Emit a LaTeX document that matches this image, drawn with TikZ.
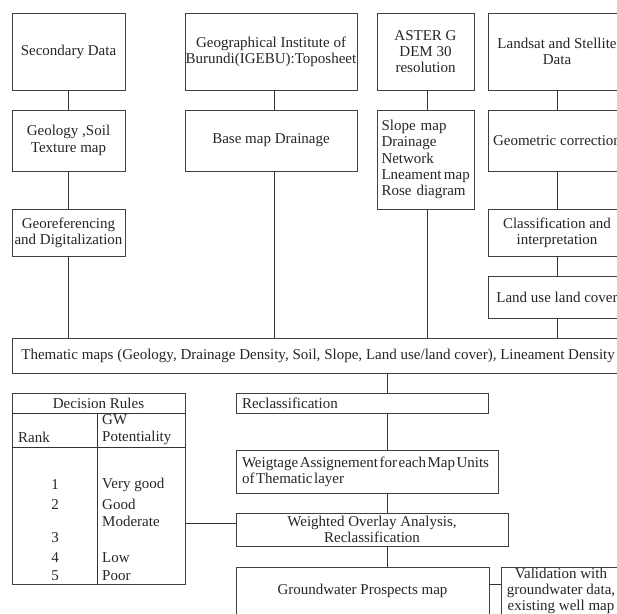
\documentclass[tikz,border=0pt]{standalone}
\usepackage{fontspec}
\setmainfont{Liberation Serif}
\begin{document}
\begin{tikzpicture}[x=1pt,y=-1pt,
  every node/.style={font=\fontsize{15pt}{16.25pt}\selectfont, text=black!85},
  box/.style={draw=black!75, line width=0.8pt, inner sep=0pt, align=center},
  lbox/.style={draw=black!75, line width=0.8pt, inner xsep=6pt, inner ysep=0pt, align=left},
  txt/.style={inner sep=0pt, align=left},
  conn/.style={draw=black!80, line width=0.8pt}]
\useasboundingbox (0,0) rectangle (617,613);
\clip (0,0) rectangle (617,613);
\fill[white] (0,0) rectangle (617,613);
% column 1
\node[box, minimum width=113pt, minimum height=77pt] (sec) at (68.5,51.5) {Secondary Data};
\node[box, minimum width=113pt, minimum height=61pt] (geol) at (68.5,140.5) {Geology ,Soil\\Texture map};
\node[box, minimum width=113pt, minimum height=47pt] (georef) at (68.5,232.5) {Georeferencing\\and Digitalization};
% column 2
\node[box, minimum width=172pt, minimum height=77pt] (igebu) at (271,51.5) {Geographical Institute of\\Burundi(IGEBU):Toposheet};
\node[box, minimum width=172pt, minimum height=61pt] (base) at (271,140.5) {Base map Drainage};
% column 3
\node[box, minimum width=97pt, minimum height=77pt] (aster) at (425.5,51.5) {ASTER G\\DEM 30\\resolution};
\node[box, minimum width=97pt, minimum height=99pt, text width=88pt, align=left] (slope) at (425.5,159.5) {Slope map\\Drainage\\Network\\\mbox{\spaceskip=2.5pt Lneament map}\\Rose diagram};
% column 4
\node[box, minimum width=138pt, minimum height=77pt] (land) at (557,51.5) {Landsat and Stellite\\Data};
\node[box, minimum width=138pt, minimum height=61pt] (geom) at (557,140.5) {Geometric correction};
\node[box, minimum width=138pt, minimum height=47pt] (class) at (557,232.5) {Classification and\\interpretation};
\node[box, minimum width=138pt, minimum height=42pt] (lulc) at (557,297) {Land use land cover};
% thematic
\node[draw=black!75, line width=0.8pt, inner xsep=9pt, inner ysep=0pt, minimum height=35pt, text width=602pt, align=left, anchor=west] (them) at (12,355.5) {\mbox{\spaceskip=3.8pt Thematic maps (Geology, Drainage Density, Soil, Slope, Land use/land cover), Lineament Density}};
% connectors top
\draw[conn] (sec) -- (geol);
\draw[conn] (geol) -- (georef);
\draw[conn] (georef.south) -- (georef.south |- them.north);
\draw[conn] ([xshift=3pt]igebu.south) -- ([xshift=3pt]base.north);
\draw[conn] ([xshift=3pt]base.south) -- ([xshift=3pt]base.south |- them.north);
\draw[conn] ([xshift=1.5pt]aster.south) -- ([xshift=1.5pt]slope.north);
\draw[conn] ([xshift=1.5pt]slope.south) -- ([xshift=1.5pt]slope.south |- them.north);
\draw[conn] (land) -- (geom);
\draw[conn] (geom) -- (class);
\draw[conn] (class) -- (lulc);
\draw[conn] (lulc.south) -- (lulc.south |- them.north);
% right lower chain
\node[lbox, minimum width=252pt, minimum height=20pt, text width=240pt] (recl) at (362,403) {Reclassification};
\node[lbox, minimum width=262pt, minimum height=43pt, text width=250pt] (weig) at (367,471.5) {\mbox{\spaceskip=1.5pt Weigtage Assignement for each Map Units}\\\mbox{\spaceskip=1.5pt of Thematic layer}};
\node[box, minimum width=272pt, minimum height=33pt] (wov) at (372,529.5) {Weighted Overlay Analysis,\\Reclassification};
\node[box, minimum width=253pt, minimum height=47pt] (gw) at (362.5,590.5) {Groundwater Prospects map};
\node[box, minimum width=120pt, minimum height=48pt] (val) at (561,591) {Validation with\\groundwater data,\\existing well map};
\coordinate (cx) at (387,0);
\draw[conn] (cx |- them.south) -- (cx |- recl.north);
\draw[conn] (cx |- recl.south) -- (cx |- weig.north);
\draw[conn] (cx |- weig.south) -- (cx |- wov.north);
\draw[conn] (cx |- wov.south) -- (cx |- gw.north);
\coordinate (vy) at (0,584);
\draw[conn] (gw.east |- vy) -- (val.west |- vy);
% decision table
\node[draw=black!75, line width=0.8pt, minimum width=173pt, minimum height=191pt, inner sep=0pt] (dec) at (98.5,488.5) {};
\coordinate (r1) at (0,413);
\coordinate (r2) at (0,447);
\coordinate (c1) at (97,0);
\draw[conn] (dec.west |- r1) -- (dec.east |- r1);
\draw[conn] (dec.west |- r2) -- (dec.east |- r2);
\draw[conn] (c1 |- r1) -- (c1 |- dec.south);
\node[txt] (dhead) at (98.5,403) {Decision Rules};
\node[txt, anchor=west] (drank) at (18,437) {Rank};
\node[txt, anchor=west] (dgw) at (102,420) {GW};
\node[txt, anchor=west] (dpot) at (102,438) {Potentiality};
\node[txt] (n1) at (55,484.5) {1};
\node[txt] (n2) at (55,504.5) {2};
\node[txt] (n3) at (55,537.5) {3};
\node[txt] (n4) at (55,558) {4};
\node[txt] (n5) at (55,575.5) {5};
\node[txt, anchor=west] (p1) at (102,484.5) {Very good};
\node[txt, anchor=west] (p2) at (102,504.5) {Good};
\node[txt, anchor=west] (p3) at (102,521) {Moderate};
\node[txt, anchor=west] (p4) at (102,558) {Low};
\node[txt, anchor=west] (p5) at (102,575.5) {Poor};
\coordinate (dy) at (0,523);
\draw[conn] (dec.east |- dy) -- (wov.west |- dy);
\end{tikzpicture}
\end{document}
